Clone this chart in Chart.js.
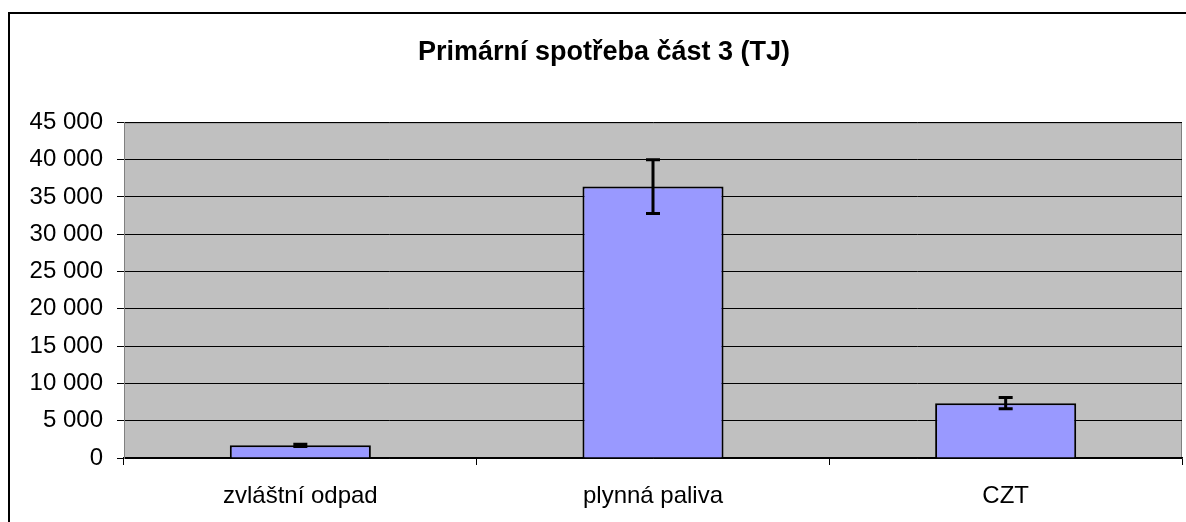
<!DOCTYPE html>
<html>
<head>
<meta charset="utf-8">
<script src="https://cdn.jsdelivr.net/npm/chart.js@4"></script>
<style>
  html, body { margin: 0; padding: 0; background: #fff; }
  #wrap { width: 1186px; height: 522px; }
</style>
</head>
<body>
<div id="wrap"><canvas id="chart"></canvas></div>
<script>
// Data
const categories = ["zvláštní odpad", "plynná paliva", "CZT"];
const values = [1700, 36400, 7350];
const errors = [150, 3600, 750];
const yTicks = [0, 5000, 10000, 15000, 20000, 25000, 30000, 35000, 40000, 45000];

function fmt(v) {
    return String(v).replace(/\B(?=(\d{3})+(?!\d))/g, " ");
}

// gray plot background + outer frame
const backdrop = {
    id: "backdrop",
    beforeDraw(chart) {
        const { ctx, chartArea: a } = chart;
        ctx.save();
        ctx.fillStyle = "#C0C0C0";
        ctx.fillRect(a.left, a.top, a.right - a.left, a.bottom - a.top);
        ctx.strokeStyle = "#808080";
        ctx.lineWidth = 1;
        ctx.strokeRect(a.left + 0.5, a.top + 0.5, a.right - a.left - 1, a.bottom - a.top);
        ctx.strokeStyle = "#000";
        ctx.lineWidth = 2;
        ctx.beginPath();
        ctx.moveTo(9, 530);
        ctx.lineTo(9, 13);
        ctx.lineTo(1200, 13);
        ctx.stroke();
        ctx.restore();
    }
};

// error bars through the y scale
const errorBars = {
    id: "errorBars",
    afterDatasetsDraw(chart) {
        const { ctx } = chart;
        const y = chart.scales.y;
        const meta = chart.getDatasetMeta(0);
        ctx.save();
        ctx.strokeStyle = "#000";
        ctx.lineWidth = 3;
        meta.data.forEach((bar, i) => {
            const x = bar.x;
            const hi = y.getPixelForValue(values[i] + errors[i]);
            const lo = y.getPixelForValue(values[i] - errors[i]);
            ctx.beginPath();
            ctx.moveTo(x, hi); ctx.lineTo(x, lo);
            ctx.moveTo(x - 7, hi); ctx.lineTo(x + 7, hi);
            ctx.moveTo(x - 7, lo); ctx.lineTo(x + 7, lo);
            ctx.stroke();
        });
        ctx.restore();
    }
};

Chart.defaults.font.family = "'Liberation Sans', Arial, sans-serif";
Chart.defaults.color = "#000";

new Chart(document.getElementById("chart"), {
    type: "bar",
    data: {
        labels: categories,
        datasets: [{
            data: values,
            backgroundColor: "#9999FF",
            borderColor: "#000",
            borderWidth: 2,
            barPercentage: 0.4,
            categoryPercentage: 1
        }]
    },
    options: {
        responsive: true,
        maintainAspectRatio: false,
        animation: false,
        devicePixelRatio: 1,
        layout: { padding: { top: 0, right: 4, bottom: 0, left: 26 } },
        plugins: {
            legend: { display: false },
            tooltip: { enabled: false },
            title: {
                display: true,
                text: "Primární spotřeba část 3 (TJ)",
                font: { size: 27, weight: "bold" },
                padding: { top: 36, bottom: 54 }
            }
        },
        scales: {
            x: {
                grid: {
                    offset: true,
                    drawOnChartArea: false,
                    drawTicks: true,
                    tickLength: 7,
                    color: "#000"
                },
                border: { color: "#000", width: 1.5 },
                ticks: { font: { size: 24 }, padding: 17, maxRotation: 0 },
                afterFit(s) { s.height = 64; }
            },
            y: {
                min: 0,
                max: 45000,
                afterBuildTicks(s) { s.ticks = yTicks.map(v => ({ value: v })); },
                grid: { color: "#000", lineWidth: 1, tickLength: 7 },
                border: { color: "#808080", width: 1 },
                ticks: {
                    font: { size: 24 },
                    padding: 14,
                    callback: v => fmt(v)
                },
                afterFit(s) { s.width = 98; }
            }
        }
    },
    plugins: [backdrop, errorBars]
});
</script>
</body>
</html>
